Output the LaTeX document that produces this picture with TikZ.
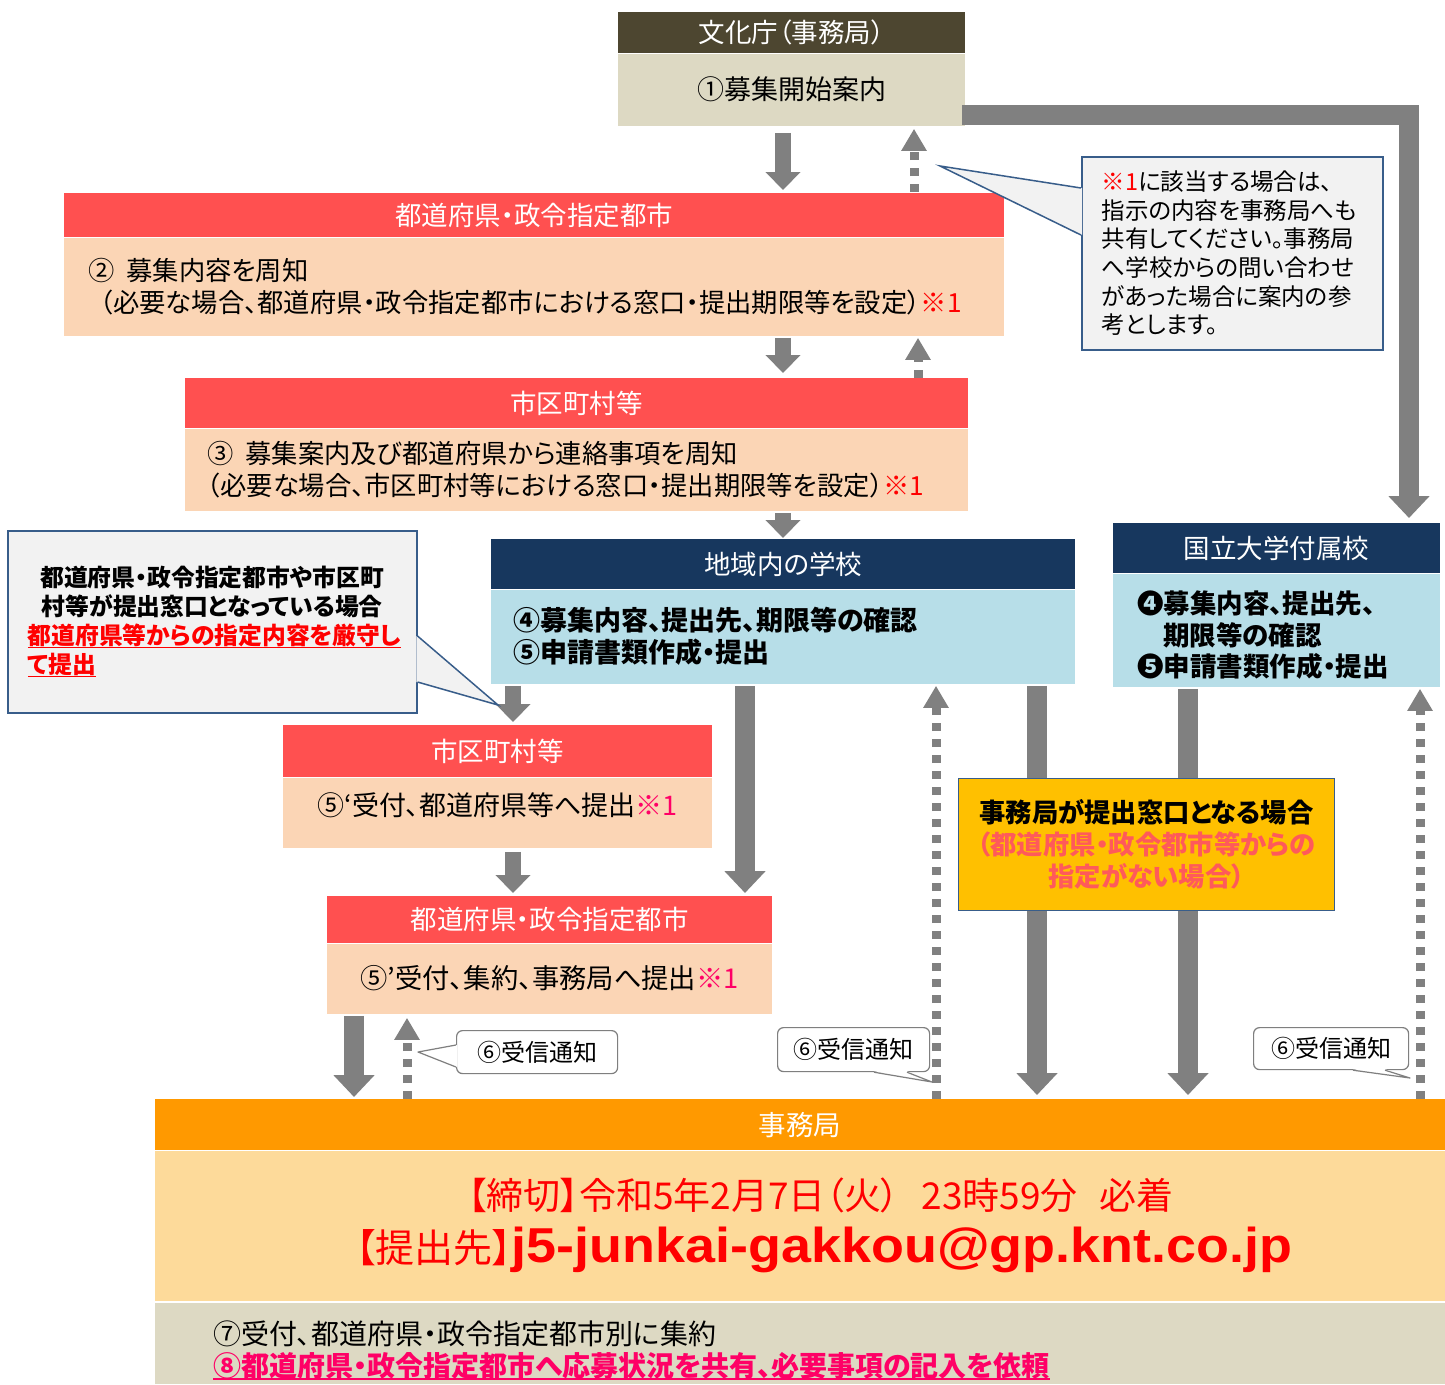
\documentclass[tikz,border=0pt]{standalone}
\usepackage{fontspec}
\setmainfont{Noto Sans CJK JP}[RawFeature=+palt]
\newfontfamily\mailfont{Liberation Sans}[FakeStretch=1.1]
\usetikzlibrary{arrows.meta,calc}
\definecolor{cOlive}{RGB}{77,70,48}
\definecolor{cBeige}{RGB}{221,217,195}
\definecolor{cRed}{RGB}{255,80,80}
\definecolor{cPeach}{RGB}{251,213,181}
\definecolor{cNavy}{RGB}{23,55,94}
\definecolor{cLBlue}{RGB}{183,222,232}
\definecolor{cGray}{RGB}{128,128,128}
\definecolor{cCallFill}{RGB}{242,242,242}
\definecolor{cCallLine}{RGB}{56,93,138}
\definecolor{cOrange}{RGB}{255,153,0}
\definecolor{cLOrange}{RGB}{253,218,154}
\definecolor{cYellow}{RGB}{255,192,0}
\definecolor{cTxtRed}{RGB}{255,0,0}
\definecolor{cPink}{RGB}{255,0,102}
\definecolor{cSalmon}{RGB}{255,90,90}
\definecolor{cBubble}{RGB}{127,127,127}
\newcommand\fs[2]{\fontsize{#1}{#2}\selectfont}
\newcommand\myul[1]{\leavevmode\setbox0\hbox{#1}\rlap{\rule[-4pt]{\wd0}{1.8pt}}\box0}
\tikzset{
 hdr/.style={anchor=north west, inner sep=0pt, text=white, font=\fs{26.5}{30}},
 bodyc/.style={anchor=north west, inner sep=0pt, font=\fs{27}{32}},
 bodyl/.style={anchor=north west, inner ysep=0pt, align=left, font=\fs{26.3}{31.5}},
 arrS/.style={draw=cGray, line width=16pt, -{Triangle[width=34pt,length=18pt]}},
 arrL/.style={draw=cGray, line width=20pt, -{Triangle[width=40pt,length=22pt]}},
 arrD/.style={draw=cGray, line width=9pt, dash pattern=on 8pt off 8pt, -{Triangle[width=24pt,length=22pt]}},
 callbox/.style={anchor=north west, fill=cCallFill, draw=cCallLine, line width=1.5pt, inner ysep=0pt, align=left},
 callside/.style={draw=cCallLine, line width=1.5pt},
 bubble/.style={anchor=north west, fill=white, draw=cBubble, line width=1.2pt, rounded corners=6pt, inner sep=0pt, font=\fs{24}{28}},
 bubside/.style={draw=cBubble, line width=1.2pt, line join=round},
}
\begin{document}
\begin{tikzpicture}[x=1pt,y=-1pt]
\useasboundingbox[fill=white] (0,0) rectangle (1445,1384);
\foreach \xx in {354,407,513,745,783,914,918,936,1037,1188,1409,1420} {\coordinate (x\xx) at (\xx,0);}
\coordinate (y115) at (0,115);
% ---- boxes ----
\node[hdr, fill=cOlive, minimum width=347pt, minimum height=41pt] (bunkaH) at (618,12) {文化庁（事務局）};
\node[bodyc, fill=cBeige, minimum width=347pt, minimum height=72pt] (bunkaB) at (bunkaH.south west) {①募集開始案内};

\node[hdr, fill=cRed, minimum width=940pt, minimum height=44pt] (todoH) at (64,193) {都道府県・政令指定都市};
\node[bodyl, fill=cPeach, minimum width=940pt, minimum height=98pt, text width=892pt, inner xsep=24pt] (todoB) at (todoH.south west)
 {②\hspace{12pt}募集内容を周知\\\hspace*{12pt}（必要な場合、都道府県・政令指定都市における窓口・提出期限等を設定）\textcolor{cTxtRed}{※1}};

\node[hdr, fill=cRed, minimum width=783pt, minimum height=50pt] (shiH) at (185,378) {市区町村等};
\node[bodyl, fill=cPeach, minimum width=783pt, minimum height=82pt, text width=739pt, inner xsep=22pt] (shiB) at (shiH.south west)
 {③\hspace{12pt}募集案内及び都道府県から連絡事項を周知\\（必要な場合、市区町村等における窓口・提出期限等を設定）\textcolor{cTxtRed}{※1}};

\node[hdr, fill=cNavy, minimum width=584pt, minimum height=50pt] (chiikiH) at (491,539) {地域内の学校};
\node[bodyl, fill=cLBlue, minimum width=584pt, minimum height=94pt, text width=540pt, inner xsep=22pt, font=\fs{27}{32}\bfseries] (chiikiB) at (chiikiH.south west)
 {④募集内容、提出先、期限等の確認\\⑤申請書類作成・提出};

\node[hdr, fill=cNavy, minimum width=327pt, minimum height=50pt] (kokuH) at (1113,523) {国立大学付属校};
\node[bodyl, fill=cLBlue, minimum width=327pt, minimum height=113pt, text width=279pt, inner xsep=24pt, font=\fs{26.5}{31.5}\bfseries] (kokuB) at (kokuH.south west)
 {\rule{0pt}{33pt}❹募集内容、提出先、\\\hspace*{26pt}期限等の確認\\❺申請書類作成・提出};

\node[hdr, fill=cRed, minimum width=429pt, minimum height=52pt] (shi2H) at (283,725) {市区町村等};
\node[bodyc, fill=cPeach, minimum width=429pt, minimum height=70pt] (shi2B) at (shi2H.south west)
 {\raisebox{0pt}[\height][\dimexpr\depth+14pt\relax]{⑤‘受付、都道府県等へ提出\textcolor{cPink}{※1}}};

\node[hdr, fill=cRed, minimum width=445pt, minimum height=47pt] (todo2H) at (327,896) {都道府県・政令指定都市};
\node[bodyc, fill=cPeach, minimum width=445pt, minimum height=70pt, font=\fs{27.3}{32}] (todo2B) at (todo2H.south west)
 {⑤'受付、集約、事務局へ提出\textcolor{cPink}{※1}};

\node[hdr, fill=cOrange, minimum width=1290pt, minimum height=51pt, font=\fs{27.5}{30}] (jimuH) at (155,1099) {事務局};
\node[bodyc, fill=cLOrange, minimum width=1290pt, minimum height=150pt] (jimuB) at (jimuH.south west) {};
\node[bodyl, fill=cBeige, minimum width=1290pt, minimum height=81pt, text width=1174pt, inner xsep=58pt, font=\fs{28}{32}] (jimuC) at (155,1303)
 {\rule{0pt}{37pt}⑦受付、都道府県・政令指定都市別に集約\\\textcolor{cPink}{\bfseries\myul{⑧都道府県・政令指定都市へ応募状況を共有、必要事項の記入を依頼}}};
\node[text=cTxtRed, font=\fs{37}{42}, inner sep=0pt] (deadline) at (821,1195) {【締切】令和5年2月7日（火）\hspace{22pt}23時59分\hspace{22pt}必着};
\node[text=cTxtRed, inner sep=0pt, anchor=base] (address) at (824,1262) {{\fs{39}{44}【提出先】}{\mailfont\bfseries\fs{49}{52}j5-junkai-gakkou@gp.knt.co.jp}};

% ---- arrows ----
\draw[arrS] ($(bunkaB.south -| x783)+(0,7)$) -- ($(todoH.north -| x783)+(0,-3)$);
\draw[arrD] ($(todoH.north -| x914)+(0,-1)$) -- ($(bunkaB.south -| x914)+(0,3)$);
\draw[arrS] ($(todoB.south -| x783)+(0,2)$) -- ($(shiH.north -| x783)+(0,-5)$);
\draw[arrD] (shiH.north -| x918) -- ($(todoB.south -| x918)+(0,2)$);
\draw[arrS] ($(shiB.south -| x783)+(0,2)$) -- ($(chiikiH.north -| x783)+(0,-1)$);
\draw[arrS] ($(chiikiB.south -| x513)+(0,2)$) -- ($(shi2H.north -| x513)+(0,-3)$);
\draw[arrL] ($(chiikiB.south -| x745)+(0,2)$) -- ($(todo2H.north -| x745)+(0,-3)$);
\draw[arrD] (jimuH.north -| x936) -- ($(chiikiB.south -| x936)+(0,2)$);
\draw[arrL] ($(chiikiB.south -| x1037)+(0,2)$) -- ($(jimuH.north -| x1037)+(0,-4)$);
\draw[arrL] ($(kokuB.south -| x1188)+(0,2)$) -- ($(jimuH.north -| x1188)+(0,-4)$);
\draw[arrD] (jimuH.north -| x1420) -- ($(kokuB.south -| x1420)+(0,2)$);
\draw[arrS] ($(shi2B.south -| x513)+(0,4)$) -- ($(todo2H.north -| x513)+(0,-3)$);
\draw[arrL] ($(todo2B.south -| x354)+(0,2)$) -- ($(jimuH.north -| x354)+(0,-2)$);
\draw[arrD] (jimuH.north -| x407) -- ($(todo2B.south -| x407)+(0,4)$);
\draw[arrL] ($(bunkaB.east |- y115)+(-3,0)$) -| ($(kokuH.north -| x1409)+(0,-5)$);

% ---- orange note ----
\node[anchor=north west, fill=cYellow, draw=cCallLine, line width=1pt, minimum width=376pt, minimum height=132pt, align=center, font=\fs{26.3}{32}\bfseries, inner sep=0pt] (case) at (958,778)
 {事務局が提出窓口となる場合\\\textcolor{cSalmon}{（都道府県・政令都市等からの}\\\textcolor{cSalmon}{指定がない場合）}};

% ---- callout ※1 ----
\coordinate (p1) at (940,166);
\node[callbox, minimum width=301pt, minimum height=193pt, text width=261pt, inner xsep=20pt, font=\fs{23.5}{28.7}] (note1) at (1081,156)
 {\textcolor{cTxtRed}{※1}に該当する場合は、\\指示の内容を事務局へも\\共有してください。事務局\\へ学校からの問い合わせ\\があった場合に案内の参\\考とします。};
\fill[cCallFill] ($(note1.north west)+(1.2,32)$) -- (p1) -- ($(note1.north west)+(1.2,79)$) -- cycle;
\draw[callside] ($(note1.north west)+(0,32)$) -- (p1) -- ($(note1.north west)+(0,79)$);

% ---- left callout ----
\coordinate (p2) at (498,705);
\node[callbox, minimum width=409pt, minimum height=182pt, text width=375pt, inner xsep=17pt, font=\fs{23.8}{29}\bfseries] (note2) at (7,530)
 {\centering 都道府県・政令指定都市や市区町\\村等が提出窓口となっている場合\par
  \raggedright\color{cTxtRed}\hspace*{3pt}\myul{都道府県等からの指定内容を厳守し}\\\hspace*{3pt}\myul{て提出}\par};
\fill[cCallFill] ($(note2.north east)+(-1.2,106)$) -- (p2) -- ($(note2.north east)+(-1.2,152)$) -- cycle;
\draw[callside] ($(note2.north east)+(0,106)$) -- (p2) -- ($(note2.north east)+(0,152)$);

% ---- receipt bubbles ----
\coordinate (q1) at (418,1052);
\node[bubble, minimum width=161pt, minimum height=43pt] (rx1) at (456,1030) {⑥受信通知};
\fill[white] ($(rx1.north west)+(1,15)$) -- (q1) -- ($(rx1.north west)+(1,37)$) -- cycle;
\draw[bubside] ($(rx1.north west)+(0,15)$) -- (q1) -- ($(rx1.north west)+(0,37)$);

\coordinate (q2) at (932,1082);
\node[bubble, minimum width=152pt, minimum height=44pt] (rx2) at (777,1027) {⑥受信通知};
\fill[white] ($(rx2.south west)+(97,-1)$) -- (q2) -- ($(rx2.south west)+(130,-1)$) -- cycle;
\draw[bubside] ($(rx2.south west)+(97,0)$) -- (q2) -- ($(rx2.south west)+(130,0)$);

\coordinate (q3) at (1410,1078);
\node[bubble, minimum width=155pt, minimum height=42pt] (rx3) at (1253,1027) {⑥受信通知};
\fill[white] ($(rx3.south west)+(100,-1)$) -- (q3) -- ($(rx3.south west)+(132,-1)$) -- cycle;
\draw[bubside] ($(rx3.south west)+(100,0)$) -- (q3) -- ($(rx3.south west)+(132,0)$);
\end{tikzpicture}
\end{document}
